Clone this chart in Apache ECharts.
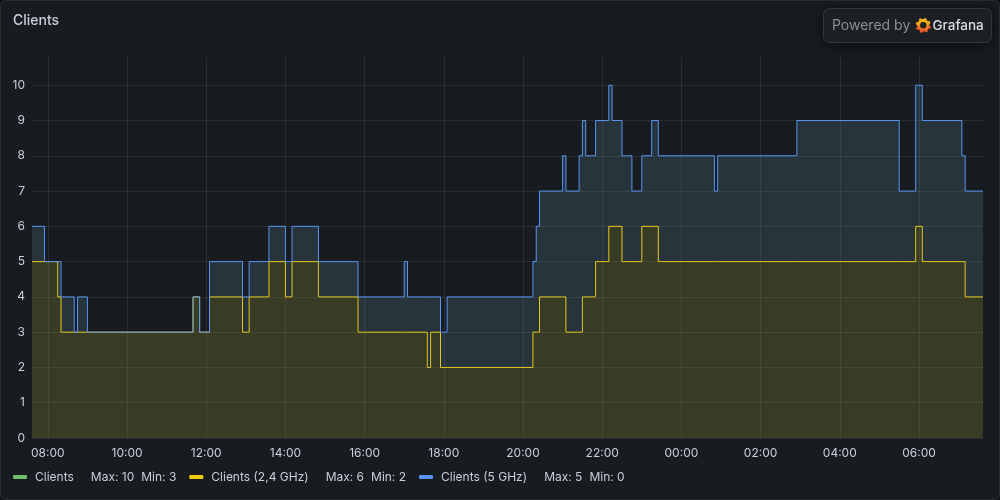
<!DOCTYPE html>
<html><head><meta charset="utf-8">
<script src="https://cdn.jsdelivr.net/npm/echarts@6/dist/echarts.min.js"></script>
<style>
html,body{margin:0;padding:0;background:#111217;}
#panel{position:absolute;left:0;top:0;width:1000px;height:500px;box-sizing:border-box;background:#181b1f;border:1px solid #2b2e34;border-radius:6px;}
#chart{position:absolute;left:0;top:0;width:1000px;height:500px;}
</style></head><body>
<div id="panel"></div><div id="chart"></div>
<script>
// change points (local time, wrapping past midnight); value holds until next point
const times = ["07:36","07:55","08:15","08:20","08:40","08:45","09:00","11:40","11:50","12:05",
  "12:55","13:05","13:35","14:00","14:10","14:50","15:50","17:00","17:05","17:35",
  "17:40","17:55","18:05","20:15","20:20","20:25","21:00","21:05","21:25","21:30",
  "21:35","21:50","22:10","22:15","22:30","22:45","23:00","23:15","23:25","00:50",
  "00:55","02:55","05:30","05:55","06:05","07:05","07:10","07:37"];
const ghz24 = [5,5,4,3,3,3,3,4,3,4, 3,4,5,4,5,4,3,3,3,2, 3,2,2,3,3,4,4,3,3,4, 4,5,6,6,5,5,6,6,5,5, 5,5,5,6,5,5,4,4];
const ghz5  = [1,0,1,1,0,1,0,0,0,1, 1,1,1,1,1,1,1,2,1,2, 1,1,2,2,3,3,4,4,5,5, 4,4,4,3,3,2,2,3,3,2, 3,4,2,4,4,3,3,3];
const xTickLabels = ["08:00","10:00","12:00","14:00","16:00","18:00","20:00","22:00","00:00","02:00","04:00","06:00"];
const seriesNames = ["Clients","Clients (2,4 GHz)","Clients (5 GHz)"];
const seriesColors = ["#73BF69","#F2CC0C","#5794F2"];

// convert "HH:MM" lists to minutes since day-1 midnight, wrapping past midnight
function toMinutes(list) {
  let day = 0, prev = -1;
  return list.map(t => {
    const [h, m] = t.split(":").map(Number);
    const mins = h * 60 + m;
    if (mins < prev) day++;
    prev = mins;
    return day * 1440 + mins;
  });
}
const ts = toMinutes(times);
const tickTs = toMinutes(xTickLabels);
const total = ghz24.map((v, i) => v + ghz5[i]);
const valuesByName = {};
valuesByName[seriesNames[0]] = total;
valuesByName[seriesNames[1]] = ghz24;
valuesByName[seriesNames[2]] = ghz5;
const pad = n => (n < 10 ? "0" : "") + n;
const fmtMin = v => { const m = ((Math.round(v) % 1440) + 1440) % 1440; return pad(Math.floor(m / 60)) + ":" + pad(m % 60); };
// rows are [value, minute] so the value dimension is the stacked one
const rows = arr => ts.map((x, i) => [arr[i], x]);

const grid = "rgba(204,204,220,0.1)";
const txt = "#ccccdc";

const logoTeeth = [];
for (let k = 0; k < 8; k++) {
  const a = k * Math.PI / 4 + 0.3;
  logoTeeth.push({type: "circle", shape: {cx: 923.3 + Math.cos(a) * 6.2, cy: 25.3 + Math.sin(a) * 6.2, r: 1.5},
    style: {fill: k < 4 ? "#F05A28" : "#F9A61A"}, z: 102});
}

const chart = echarts.init(document.getElementById("chart"), null, {renderer: "canvas"});
chart.setOption({
  backgroundColor: "transparent",
  animation: false,
  textStyle: {fontFamily: "Inter, sans-serif"},
  title: {text: "Clients", left: 13, top: 14, padding: 0,
    textStyle: {color: txt, fontSize: 14, fontWeight: 500, fontFamily: "Inter"}},
  grid: {left: 32, right: 17, top: 57, bottom: 62},
  xAxis: {
    type: "value", min: ts[0], max: ts[ts.length - 1],
    axisLine: {show: false},
    axisTick: {show: false, customValues: tickTs},
    splitLine: {show: true, lineStyle: {color: grid, width: 1}},
    axisLabel: {color: txt, fontSize: 12, margin: 9, fontFamily: "Inter", customValues: tickTs,
      formatter: v => fmtMin(v)}
  },
  yAxis: {
    type: "value", min: 0, max: 10.8, interval: 1,
    axisLine: {show: false}, axisTick: {show: false},
    splitLine: {show: true, showMaxLine: false, lineStyle: {color: grid, width: 1}},
    axisLabel: {color: txt, fontSize: 12, margin: 7, fontFamily: "Inter", showMaxLabel: false,
      formatter: v => (Math.abs(v - Math.round(v)) < 1e-9 ? String(Math.round(v)) : "")}
  },
  legend: {
    left: 13, top: 471, padding: 0, icon: "roundRect", itemWidth: 14, itemHeight: 4, itemGap: 13,
    selectedMode: false,
    data: seriesNames.map((n, i) => ({name: n, itemStyle: {color: seriesColors[i], opacity: 1}})),
    formatter: name => {
      const arr = valuesByName[name];
      return "{n|" + name + "}{m|Max: " + Math.max(...arr) + "}{k|Min: " + Math.min(...arr) + "}";
    },
    textStyle: {color: txt, fontSize: 12, fontFamily: "Inter",
      rich: {
        n: {color: txt, fontSize: 12, fontFamily: "Inter", padding: [0, 17, 0, 3]},
        m: {color: txt, fontSize: 12, fontFamily: "Inter"},
        k: {color: txt, fontSize: 12, fontFamily: "Inter", padding: [0, 0, 0, 7]}
      }}
  },
  series: [
    {name: seriesNames[0], type: "line", step: "end", showSymbol: false, silent: true, z: 1,
      encode: {x: 1, y: 0},
      color: seriesColors[0], lineStyle: {opacity: 0}, itemStyle: {color: seriesColors[0]},
      data: rows(total)},
    {name: seriesNames[1], type: "line", step: "end", stack: "wifi", showSymbol: false, z: 2,
      encode: {x: 1, y: 0},
      color: seriesColors[1], lineStyle: {color: seriesColors[1], width: 1},
      areaStyle: {color: "rgba(184,197,66,0.2)", opacity: 1},
      data: rows(ghz24)},
    {name: seriesNames[2], type: "line", step: "end", stack: "wifi", showSymbol: false, z: 3,
      encode: {x: 1, y: 0},
      color: seriesColors[2], lineStyle: {color: seriesColors[2], width: 1},
      areaStyle: {color: "rgba(99,157,176,0.2)", opacity: 1},
      data: rows(ghz5)}
  ],
  graphic: [
    {type: "rect", shape: {x: 823.5, y: 8.5, width: 168, height: 34, r: 6},
      style: {fill: "#1d2025", stroke: "#33363c", lineWidth: 1, shadowBlur: 14, shadowColor: "rgba(0,0,0,0.45)", shadowOffsetY: 2}, z: 100},
    {type: "text", x: 832, y: 25.5, z: 101,
      style: {text: "Powered by", fill: "#8d8d96", font: "14px Inter", verticalAlign: "middle"}},
    {type: "ring", shape: {cx: 923.3, cy: 25.3, r: 6.2, r0: 3.2}, z: 101,
      style: {fill: new echarts.graphic.LinearGradient(0, 0, 0, 1, [{offset: 0, color: "#FBCA0A"}, {offset: 1, color: "#F05A28"}])}},
    ...logoTeeth,
    {type: "text", x: 932.5, y: 25.5, z: 101,
      style: {text: "Grafana", fill: "#dcdde2", font: "500 13.5px Inter", verticalAlign: "middle"}}
  ]
});
</script>
</body></html>
